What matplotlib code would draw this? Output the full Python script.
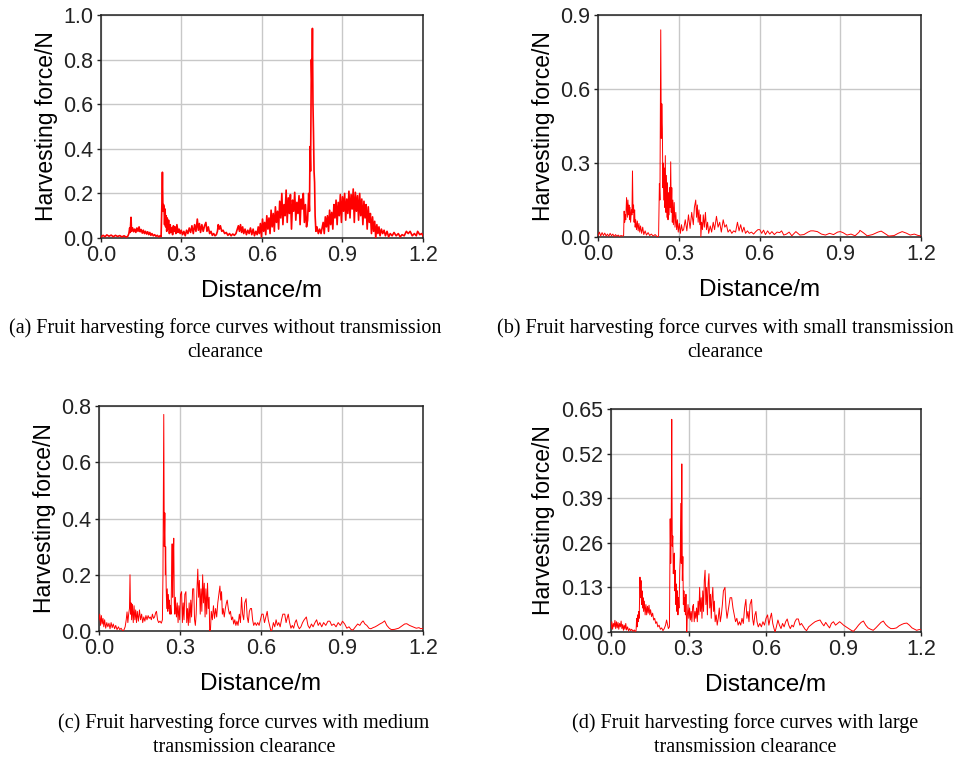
import numpy as np
import matplotlib
matplotlib.use('Agg')
from matplotlib import pyplot as plt

# ---- values (distance in m, force in N) ----
dist_a = [0.000, 0.008, 0.015, 0.022, 0.030, 0.038, 0.046, 0.054, 0.062, 0.070, 0.078, 0.086, 0.094, 0.100,
          0.104, 0.107, 0.109, 0.112, 0.114, 0.118, 0.122, 0.126, 0.130, 0.134, 0.138, 0.142, 0.146, 0.150,
          0.154, 0.158, 0.162, 0.166, 0.170, 0.174, 0.178, 0.182, 0.186, 0.190, 0.195, 0.200, 0.205, 0.210,
          0.215, 0.220, 0.224, 0.227, 0.229, 0.231, 0.233, 0.235, 0.237, 0.239, 0.241, 0.243, 0.245, 0.247,
          0.249, 0.252, 0.255, 0.258, 0.261, 0.264, 0.267, 0.270, 0.273, 0.276, 0.279, 0.283, 0.287, 0.291,
          0.295, 0.299, 0.304, 0.309, 0.314, 0.319, 0.324, 0.329, 0.334, 0.339, 0.344, 0.349, 0.354, 0.359,
          0.363, 0.367, 0.371, 0.376, 0.381, 0.386, 0.391, 0.395, 0.400, 0.405, 0.410, 0.415, 0.420, 0.425,
          0.430, 0.434, 0.437, 0.441, 0.445, 0.450, 0.455, 0.461, 0.467, 0.473, 0.479, 0.485, 0.491, 0.497,
          0.503, 0.508, 0.512, 0.516, 0.520, 0.524, 0.528, 0.532, 0.537, 0.542, 0.547, 0.552, 0.557, 0.562,
          0.567, 0.572, 0.577, 0.582, 0.586,
          0.590, 0.594, 0.598, 0.602, 0.606, 0.610, 0.614, 0.618, 0.622, 0.626, 0.630, 0.634, 0.638, 0.642,
          0.646, 0.650, 0.654, 0.658, 0.662, 0.666, 0.670, 0.674, 0.678, 0.682, 0.686, 0.690, 0.694, 0.698,
          0.702, 0.706, 0.710, 0.714, 0.718, 0.722, 0.726, 0.730, 0.734, 0.738, 0.742, 0.746, 0.750, 0.754,
          0.758, 0.762, 0.766,
          0.770, 0.774, 0.777, 0.779, 0.781, 0.784, 0.786, 0.788, 0.790, 0.792, 0.794, 0.796, 0.798, 0.801,
          0.805, 0.810, 0.815, 0.820, 0.825,
          0.828, 0.832, 0.836, 0.840, 0.844, 0.848, 0.852, 0.856, 0.860, 0.864, 0.868, 0.872, 0.876, 0.880,
          0.884, 0.888, 0.892, 0.896, 0.900, 0.904, 0.908, 0.912, 0.916, 0.920, 0.924, 0.928, 0.932, 0.936,
          0.940, 0.944, 0.948, 0.952, 0.956, 0.960, 0.964, 0.968, 0.972, 0.976, 0.980, 0.984, 0.988, 0.992,
          0.996, 1.000, 1.004, 1.008, 1.012, 1.016, 1.020, 1.024, 1.028,
          1.032, 1.036, 1.040, 1.045, 1.050, 1.055, 1.060, 1.066, 1.072, 1.078, 1.085, 1.092, 1.100, 1.108,
          1.115, 1.122, 1.130, 1.138, 1.145, 1.152, 1.160, 1.168, 1.175, 1.180, 1.188, 1.195, 1.200]
force_a = [0.005, 0.012, 0.006, 0.014, 0.008, 0.013, 0.006, 0.012, 0.007, 0.011, 0.005, 0.010, 0.004, 0.008,
           0.020, 0.045, 0.025, 0.093, 0.030, 0.045, 0.028, 0.040, 0.025, 0.045, 0.030, 0.050, 0.028, 0.038,
           0.022, 0.035, 0.020, 0.030, 0.018, 0.028, 0.015, 0.025, 0.012, 0.020, 0.010, 0.015, 0.008, 0.012,
           0.005, 0.010, 0.006, 0.150, 0.295, 0.120, 0.150, 0.140, 0.060, 0.130, 0.050, 0.100, 0.030, 0.090,
           0.040, 0.080, 0.020, 0.060, 0.025, 0.045, 0.015, 0.055, 0.030, 0.050, 0.020, 0.060, 0.025, 0.040,
           0.020, 0.035, 0.015, 0.030, 0.010, 0.035, 0.020, 0.045, 0.025, 0.055, 0.020, 0.060, 0.030, 0.085,
           0.035, 0.065, 0.025, 0.060, 0.030, 0.055, 0.070, 0.030, 0.050, 0.020, 0.030, 0.012, 0.020, 0.010,
           0.015, 0.030, 0.060, 0.040, 0.055, 0.030, 0.035, 0.020, 0.025, 0.012, 0.020, 0.010, 0.018, 0.012,
           0.020, 0.040, 0.055, 0.030, 0.060, 0.025, 0.050, 0.020, 0.040, 0.015, 0.035, 0.020, 0.045, 0.015,
           0.040, 0.010, 0.030, 0.015, 0.050,
           0.020, 0.065, 0.005, 0.085, 0.030, 0.070, 0.015, 0.100, 0.040, 0.090, 0.020, 0.125, 0.050, 0.110,
           0.030, 0.140, 0.070, 0.120, 0.040, 0.165, 0.090, 0.200, 0.060, 0.150, 0.100, 0.215, 0.070, 0.180,
           0.110, 0.195, 0.040, 0.170, 0.120, 0.205, 0.080, 0.160, 0.110, 0.190, 0.060, 0.175, 0.130, 0.200,
           0.070, 0.150, 0.050,
           0.080, 0.200, 0.120, 0.410, 0.300, 0.800, 0.700, 0.940, 0.600, 0.470, 0.300, 0.250, 0.100, 0.030,
           0.050, 0.020, 0.040, 0.020, 0.050,
           0.070, 0.020, 0.095, 0.050, 0.100, 0.030, 0.125, 0.060, 0.115, 0.040, 0.150, 0.090, 0.170, 0.060,
           0.160, 0.100, 0.195, 0.070, 0.185, 0.120, 0.200, 0.080, 0.175, 0.110, 0.210, 0.090, 0.195, 0.130,
           0.220, 0.070, 0.205, 0.120, 0.190, 0.080, 0.200, 0.100, 0.175, 0.060, 0.165, 0.090, 0.150, 0.040,
           0.140, 0.070, 0.110, 0.020, 0.095, 0.030, 0.075, 0.000, 0.060,
           0.020, 0.050, 0.010, 0.040, 0.020, 0.035, 0.010, 0.030, 0.005, 0.020, 0.010, 0.025, 0.010, 0.020,
           0.005, 0.015, 0.010, 0.030, 0.020, 0.030, 0.010, 0.020, 0.010, 0.030, 0.015, 0.020, 0.010]

dist_b = [0.000, 0.005, 0.010, 0.015, 0.020, 0.025, 0.030, 0.035, 0.040, 0.045, 0.050, 0.055, 0.060, 0.065,
          0.070, 0.075, 0.080, 0.085, 0.092, 0.095, 0.097, 0.099, 0.101, 0.103, 0.106, 0.109, 0.111, 0.113,
          0.115, 0.117, 0.119, 0.121, 0.124, 0.126, 0.128, 0.130, 0.132, 0.134, 0.136, 0.138, 0.140, 0.143,
          0.146, 0.149, 0.152, 0.155, 0.158, 0.162, 0.166, 0.170, 0.175, 0.180, 0.186, 0.192, 0.198, 0.205,
          0.212, 0.218, 0.221, 0.225, 0.228, 0.230, 0.233, 0.235, 0.237, 0.239, 0.241, 0.242, 0.244, 0.246,
          0.248, 0.250, 0.252, 0.254, 0.256, 0.258, 0.260, 0.262, 0.264, 0.266, 0.268, 0.270, 0.272, 0.274,
          0.276, 0.278, 0.280, 0.283, 0.286, 0.289, 0.292, 0.295, 0.298, 0.302, 0.306, 0.310, 0.314, 0.318,
          0.324, 0.330, 0.336, 0.342, 0.348, 0.354, 0.358, 0.363, 0.366, 0.369, 0.372, 0.375, 0.378, 0.381,
          0.382, 0.385, 0.388, 0.391, 0.395, 0.399, 0.403, 0.407, 0.411, 0.417, 0.422, 0.428, 0.433, 0.440,
          0.446, 0.452, 0.458, 0.465, 0.471, 0.477, 0.483, 0.490, 0.497, 0.504, 0.511, 0.518, 0.524, 0.530,
          0.536, 0.542, 0.548, 0.555, 0.562, 0.570, 0.578, 0.586, 0.594, 0.601, 0.608, 0.615, 0.622, 0.630,
          0.638, 0.646, 0.655, 0.665, 0.675, 0.682, 0.690, 0.700, 0.710, 0.720, 0.735, 0.750, 0.765, 0.780,
          0.790, 0.800, 0.815, 0.830, 0.845, 0.860, 0.875, 0.890, 0.900, 0.910, 0.925, 0.940, 0.955, 0.970,
          0.973, 0.985, 1.000, 1.020, 1.040, 1.052, 1.065, 1.080, 1.100, 1.115, 1.130, 1.145, 1.160, 1.175,
          1.190, 1.200]
force_b = [0.005, 0.020, 0.004, 0.018, 0.006, 0.016, 0.004, 0.012, 0.003, 0.015, 0.005, 0.012, 0.002, 0.010,
           0.003, 0.008, 0.002, 0.006, 0.004, 0.005, 0.105, 0.060, 0.090, 0.070, 0.160, 0.080, 0.150, 0.090,
           0.130, 0.070, 0.120, 0.060, 0.110, 0.090, 0.268, 0.100, 0.130, 0.060, 0.110, 0.040, 0.070, 0.030,
           0.065, 0.025, 0.055, 0.020, 0.045, 0.015, 0.040, 0.010, 0.025, 0.008, 0.018, 0.006, 0.012, 0.004,
           0.010, 0.003, 0.000, 0.005, 0.217, 0.150, 0.840, 0.400, 0.540, 0.440, 0.200, 0.300, 0.150, 0.280,
           0.120, 0.330, 0.100, 0.250, 0.080, 0.220, 0.070, 0.180, 0.090, 0.200, 0.120, 0.305, 0.100, 0.200,
           0.060, 0.150, 0.050, 0.140, 0.040, 0.100, 0.030, 0.070, 0.020, 0.055, 0.015, 0.050, 0.025, 0.030,
           0.070, 0.025, 0.090, 0.035, 0.100, 0.050, 0.120, 0.150, 0.080, 0.130, 0.060, 0.110, 0.050, 0.090,
           0.000, 0.060, 0.030, 0.090, 0.040, 0.100, 0.030, 0.060, 0.015, 0.045, 0.020, 0.060, 0.030, 0.084,
           0.040, 0.060, 0.020, 0.070, 0.040, 0.050, 0.020, 0.030, 0.015, 0.025, 0.020, 0.060, 0.025, 0.050,
           0.020, 0.040, 0.015, 0.025, 0.015, 0.020, 0.012, 0.022, 0.030, 0.030, 0.015, 0.028, 0.010, 0.025,
           0.012, 0.022, 0.010, 0.020, 0.018, 0.025, 0.008, 0.012, 0.020, 0.005, 0.022, 0.008, 0.010, 0.020,
           0.025, 0.025, 0.022, 0.012, 0.008, 0.015, 0.010, 0.020, 0.022, 0.018, 0.008, 0.012, 0.005, 0.020,
           0.027, 0.018, 0.005, 0.010, 0.020, 0.024, 0.015, 0.004, 0.006, 0.015, 0.022, 0.016, 0.008, 0.012,
           0.006, 0.005]

dist_c = [0.000, 0.003, 0.006, 0.009, 0.012, 0.015, 0.018, 0.021, 0.025, 0.029, 0.033, 0.037, 0.041, 0.045,
          0.049, 0.053, 0.058, 0.062, 0.067, 0.072, 0.077, 0.082, 0.087, 0.092, 0.097, 0.101, 0.104, 0.107,
          0.110, 0.113, 0.115, 0.117, 0.119, 0.121, 0.124, 0.127, 0.130, 0.133, 0.136, 0.139, 0.142, 0.146,
          0.150, 0.154, 0.158, 0.162, 0.166, 0.170, 0.174, 0.178, 0.182, 0.186, 0.190, 0.194, 0.198, 0.202,
          0.206, 0.210, 0.213, 0.217, 0.221, 0.226, 0.231, 0.235, 0.237, 0.238, 0.240, 0.242, 0.244, 0.246,
          0.247, 0.249, 0.251, 0.253, 0.255, 0.257, 0.259, 0.261, 0.263, 0.265, 0.267, 0.269, 0.271, 0.273,
          0.275, 0.277, 0.279, 0.281, 0.283, 0.287, 0.290, 0.293, 0.296, 0.299, 0.302, 0.306, 0.309, 0.312,
          0.315, 0.318, 0.322, 0.325, 0.328, 0.331, 0.334, 0.337, 0.340, 0.343, 0.347, 0.351, 0.354, 0.357,
          0.360, 0.363, 0.366, 0.369, 0.372, 0.375, 0.378, 0.381, 0.384, 0.387, 0.390, 0.393, 0.396, 0.399,
          0.402, 0.405, 0.408, 0.410, 0.413, 0.416, 0.420, 0.424, 0.428, 0.432, 0.436, 0.440, 0.444, 0.448,
          0.451, 0.454, 0.457, 0.460, 0.464, 0.468, 0.472, 0.475, 0.479, 0.483, 0.487, 0.491, 0.495, 0.499,
          0.503, 0.507, 0.511, 0.515, 0.520, 0.524, 0.528, 0.532, 0.536, 0.540, 0.545, 0.549, 0.553, 0.557,
          0.561, 0.565, 0.569, 0.573, 0.578, 0.583, 0.588, 0.593, 0.598, 0.603, 0.608, 0.613, 0.618, 0.623,
          0.627, 0.632, 0.637, 0.641, 0.646, 0.651, 0.656, 0.661, 0.666, 0.671, 0.676, 0.681, 0.688, 0.693,
          0.698, 0.701, 0.706, 0.711, 0.716, 0.721, 0.726, 0.731, 0.736, 0.742, 0.748, 0.754, 0.760, 0.768,
          0.774, 0.780, 0.787, 0.793, 0.800, 0.806, 0.812, 0.818, 0.825, 0.832, 0.840, 0.848, 0.855, 0.862,
          0.870, 0.878, 0.886, 0.894, 0.902, 0.910, 0.918, 0.926, 0.934, 0.941, 0.950, 0.958, 0.966, 0.972,
          0.978, 0.985, 0.992, 1.000, 1.007, 1.015, 1.023, 1.032, 1.040, 1.050, 1.058, 1.066, 1.075, 1.083,
          1.095, 1.110, 1.122, 1.132, 1.140, 1.150, 1.162, 1.175, 1.185, 1.192, 1.200]
force_c = [0.040, 0.060, 0.020, 0.055, 0.025, 0.045, 0.015, 0.040, 0.010, 0.030, 0.015, 0.028, 0.008, 0.030,
           0.012, 0.025, 0.008, 0.020, 0.005, 0.015, 0.005, 0.010, 0.002, 0.003, 0.015, 0.040, 0.068, 0.030,
           0.060, 0.080, 0.200, 0.060, 0.100, 0.040, 0.095, 0.030, 0.090, 0.040, 0.075, 0.030, 0.070, 0.035,
           0.075, 0.040, 0.060, 0.030, 0.050, 0.035, 0.055, 0.040, 0.055, 0.045, 0.050, 0.040, 0.060, 0.045,
           0.050, 0.065, 0.070, 0.040, 0.030, 0.035, 0.028, 0.040, 0.200, 0.410, 0.770, 0.300, 0.420, 0.200,
           0.300, 0.150, 0.080, 0.150, 0.070, 0.130, 0.080, 0.110, 0.060, 0.090, 0.060, 0.200, 0.310, 0.120,
           0.250, 0.330, 0.100, 0.060, 0.120, 0.050, 0.100, 0.030, 0.090, 0.040, 0.130, 0.140, 0.030, 0.100,
           0.040, 0.130, 0.140, 0.030, 0.080, 0.020, 0.100, 0.030, 0.110, 0.050, 0.150, 0.150, 0.040, 0.020,
           0.060, 0.150, 0.220, 0.120, 0.180, 0.060, 0.150, 0.070, 0.200, 0.100, 0.170, 0.050, 0.150, 0.060,
           0.170, 0.080, 0.120, 0.000, 0.005, 0.070, 0.040, 0.090, 0.045, 0.080, 0.050, 0.100, 0.130, 0.160,
           0.110, 0.140, 0.060, 0.080, 0.050, 0.080, 0.100, 0.110, 0.080, 0.060, 0.070, 0.040, 0.050, 0.025,
           0.040, 0.020, 0.035, 0.020, 0.060, 0.030, 0.120, 0.060, 0.040, 0.100, 0.115, 0.050, 0.030, 0.070,
           0.080, 0.080, 0.040, 0.020, 0.030, 0.020, 0.030, 0.020, 0.040, 0.060, 0.060, 0.030, 0.050, 0.070,
           0.040, 0.020, 0.000, 0.005, 0.030, 0.015, 0.040, 0.020, 0.030, 0.015, 0.040, 0.060, 0.060, 0.030,
           0.050, 0.060, 0.030, 0.010, 0.020, 0.010, 0.030, 0.040, 0.020, 0.008, 0.015, 0.030, 0.040, 0.050,
           0.020, 0.010, 0.025, 0.015, 0.030, 0.040, 0.020, 0.030, 0.015, 0.030, 0.020, 0.035, 0.035, 0.020,
           0.025, 0.015, 0.030, 0.020, 0.035, 0.025, 0.010, 0.015, 0.005, 0.004, 0.015, 0.025, 0.020, 0.030,
           0.036, 0.025, 0.020, 0.010, 0.008, 0.012, 0.015, 0.020, 0.025, 0.030, 0.036, 0.020, 0.010, 0.005,
           0.006, 0.010, 0.018, 0.025, 0.026, 0.020, 0.015, 0.010, 0.012, 0.008, 0.010]

dist_d = [0.000, 0.003, 0.006, 0.009, 0.012, 0.015, 0.018, 0.021, 0.024, 0.027, 0.030, 0.033, 0.036, 0.039,
          0.042, 0.045, 0.048, 0.051, 0.054, 0.057, 0.060, 0.064, 0.068, 0.072, 0.076, 0.080, 0.085, 0.090,
          0.095, 0.097, 0.099, 0.101, 0.103, 0.105, 0.107, 0.109, 0.111, 0.112, 0.114, 0.116, 0.118, 0.120,
          0.122, 0.124, 0.126, 0.129, 0.132, 0.135, 0.138, 0.141, 0.144, 0.147, 0.150, 0.153, 0.157, 0.161,
          0.165, 0.169, 0.173, 0.177, 0.181, 0.186, 0.191, 0.196, 0.201, 0.206, 0.211, 0.215, 0.219, 0.222,
          0.226, 0.227, 0.229, 0.231, 0.233, 0.235, 0.237, 0.239, 0.241, 0.243, 0.245, 0.247, 0.249, 0.251,
          0.253, 0.255, 0.257, 0.259, 0.261, 0.263, 0.265, 0.266, 0.268, 0.270, 0.272, 0.274, 0.276, 0.278,
          0.280, 0.282, 0.284, 0.286, 0.288, 0.290, 0.292, 0.293, 0.295, 0.298, 0.301, 0.304, 0.307, 0.310,
          0.313, 0.316, 0.319, 0.322, 0.325, 0.328, 0.331, 0.334, 0.337, 0.340, 0.343, 0.346, 0.349, 0.352,
          0.355, 0.358, 0.361, 0.364, 0.367, 0.370, 0.373, 0.376, 0.379, 0.382, 0.385, 0.388, 0.391, 0.394,
          0.397, 0.400, 0.403, 0.407, 0.411, 0.415, 0.419, 0.423, 0.427, 0.431, 0.435, 0.441, 0.445, 0.449,
          0.453, 0.457, 0.461, 0.467, 0.472, 0.477, 0.482, 0.487, 0.492, 0.497, 0.502, 0.507, 0.512, 0.517,
          0.522, 0.526, 0.530, 0.534, 0.538, 0.544, 0.548, 0.552, 0.557, 0.561, 0.565, 0.570, 0.576, 0.582,
          0.588, 0.594, 0.600, 0.606, 0.611, 0.616, 0.621, 0.626, 0.631, 0.635, 0.640, 0.646, 0.652, 0.658,
          0.664, 0.670, 0.676, 0.682, 0.688, 0.694, 0.700, 0.706, 0.712, 0.718, 0.725, 0.731, 0.737, 0.745,
          0.751, 0.757, 0.765, 0.773, 0.781, 0.790, 0.800, 0.809, 0.817, 0.824, 0.831, 0.838, 0.846, 0.853,
          0.861, 0.869, 0.877, 0.885, 0.893, 0.900, 0.910, 0.920, 0.930, 0.938, 0.948, 0.958, 0.968, 0.977,
          0.986, 0.995, 1.005, 1.015, 1.025, 1.035, 1.045, 1.054, 1.063, 1.073, 1.083, 1.093, 1.105, 1.115,
          1.125, 1.135, 1.145, 1.155, 1.165, 1.175, 1.183, 1.192, 1.200]
force_d = [0.010, 0.030, 0.008, 0.025, 0.015, 0.034, 0.010, 0.030, 0.012, 0.028, 0.008, 0.025, 0.015, 0.032,
           0.010, 0.022, 0.005, 0.020, 0.008, 0.025, 0.006, 0.015, 0.003, 0.010, 0.004, 0.008, 0.002, 0.006,
           0.001, 0.005, 0.040, 0.015, 0.050, 0.030, 0.060, 0.040, 0.120, 0.160, 0.100, 0.150, 0.080, 0.120,
           0.070, 0.100, 0.060, 0.090, 0.050, 0.080, 0.050, 0.075, 0.055, 0.078, 0.050, 0.065, 0.045, 0.055,
           0.035, 0.040, 0.025, 0.030, 0.015, 0.020, 0.008, 0.012, 0.004, 0.010, 0.020, 0.035, 0.020, 0.010,
           0.015, 0.100, 0.330, 0.200, 0.300, 0.620, 0.250, 0.280, 0.170, 0.210, 0.230, 0.120, 0.180, 0.080,
           0.140, 0.060, 0.120, 0.050, 0.100, 0.070, 0.130, 0.180, 0.220, 0.375, 0.200, 0.490, 0.150, 0.220,
           0.080, 0.120, 0.060, 0.100, 0.050, 0.110, 0.030, 0.000, 0.040, 0.080, 0.040, 0.070, 0.035, 0.060,
           0.030, 0.075, 0.080, 0.030, 0.060, 0.040, 0.070, 0.030, 0.090, 0.050, 0.130, 0.060, 0.100, 0.040,
           0.120, 0.060, 0.150, 0.180, 0.080, 0.130, 0.050, 0.140, 0.170, 0.070, 0.110, 0.040, 0.100, 0.130,
           0.060, 0.090, 0.030, 0.050, 0.020, 0.040, 0.070, 0.030, 0.050, 0.080, 0.120, 0.130, 0.070, 0.040,
           0.060, 0.080, 0.100, 0.100, 0.070, 0.050, 0.030, 0.040, 0.020, 0.030, 0.020, 0.040, 0.025, 0.070,
           0.095, 0.040, 0.060, 0.030, 0.080, 0.095, 0.040, 0.020, 0.050, 0.060, 0.030, 0.015, 0.025, 0.015,
           0.030, 0.020, 0.040, 0.050, 0.020, 0.040, 0.055, 0.025, 0.010, 0.000, 0.015, 0.035, 0.020, 0.010,
           0.025, 0.015, 0.030, 0.038, 0.020, 0.010, 0.020, 0.015, 0.030, 0.038, 0.038, 0.020, 0.025, 0.015,
           0.008, 0.004, 0.015, 0.020, 0.025, 0.030, 0.033, 0.035, 0.025, 0.018, 0.028, 0.020, 0.012, 0.025,
           0.030, 0.020, 0.025, 0.030, 0.025, 0.020, 0.015, 0.010, 0.005, 0.002, 0.010, 0.020, 0.028, 0.032,
           0.020, 0.012, 0.008, 0.005, 0.012, 0.020, 0.028, 0.032, 0.022, 0.015, 0.010, 0.010, 0.012, 0.018,
           0.022, 0.025, 0.026, 0.020, 0.012, 0.008, 0.005, 0.007, 0.007]

x_ticks = [0.0, 0.3, 0.6, 0.9, 1.2]
y_ticks_a = [0.0, 0.2, 0.4, 0.6, 0.8, 1.0]
y_ticks_b = [0.0, 0.3, 0.6, 0.9]
y_ticks_c = [0.0, 0.2, 0.4, 0.6, 0.8]
y_ticks_d = [0.0, 0.13, 0.26, 0.39, 0.52, 0.65]

captions = [
    "(a) Fruit harvesting force curves without transmission\nclearance",
    "(b) Fruit harvesting force curves with small transmission\nclearance",
    "(c) Fruit harvesting force curves with medium\ntransmission clearance",
    "(d) Fruit harvesting force curves with large\ntransmission clearance",
]

plt.rcParams['font.family'] = ['Liberation Sans', 'DejaVu Sans']

fig = plt.figure(figsize=(9.57, 7.59), dpi=100)

panels = [
    # axes rect, data, y ticks, y label fmt, line width
    ([0.1055, 0.6864, 0.3365, 0.2938], dist_a, force_a, y_ticks_a, "{:.1f}", 1.2),
    ([0.6249, 0.6877, 0.3375, 0.2925], dist_b, force_b, y_ticks_b, "{:.1f}", 0.7),
    ([0.1034, 0.1686, 0.3386, 0.2965], dist_c, force_c, y_ticks_c, "{:.1f}", 0.7),
    ([0.6385, 0.1673, 0.3239, 0.2938], dist_d, force_d, y_ticks_d, "{:.2f}", 0.7),
]

for rect, xs, ys, yt, fmt, lw in panels:
    ax = fig.add_axes(rect)
    ax.plot(xs, ys, color='#ff0000', lw=lw, zorder=3)
    ax.set_xlim(0, 1.2)
    ax.set_ylim(0, yt[-1])
    ax.set_xticks(x_ticks)
    ax.set_xticklabels(["{:.1f}".format(v) for v in x_ticks])
    ax.set_yticks(yt)
    ax.set_yticklabels([fmt.format(v) for v in yt])
    ax.grid(True, color='#c8c8c8', lw=1.0, zorder=0)
    ax.tick_params(direction='out', length=3, width=1, labelsize=15.5, colors='#222222')
    ax.tick_params(axis='y', pad=2.5)
    ax.tick_params(axis='x', pad=2)
    for s in ax.spines.values():
        s.set_color('#222222')
        s.set_linewidth(1.1)
    ax.set_xlabel("Distance/m", fontsize=17.5, labelpad=10)
    ax.set_ylabel("Harvesting force/N", fontsize=16.5, labelpad=4)

cap_font = dict(family=['Liberation Serif', 'DejaVu Serif'], fontsize=14.5, linespacing=1.38,
                ha='center', va='top')
fig.text(225 / 957, 1 - 318 / 759, captions[0], **cap_font)
fig.text(725 / 957, 1 - 318 / 759, captions[1], **cap_font)
fig.text(244 / 957, 1 - 713 / 759, captions[2], **cap_font)
fig.text(745 / 957, 1 - 713 / 759, captions[3], **cap_font)

fig.savefig("out.png", dpi=100)
plt.close()
